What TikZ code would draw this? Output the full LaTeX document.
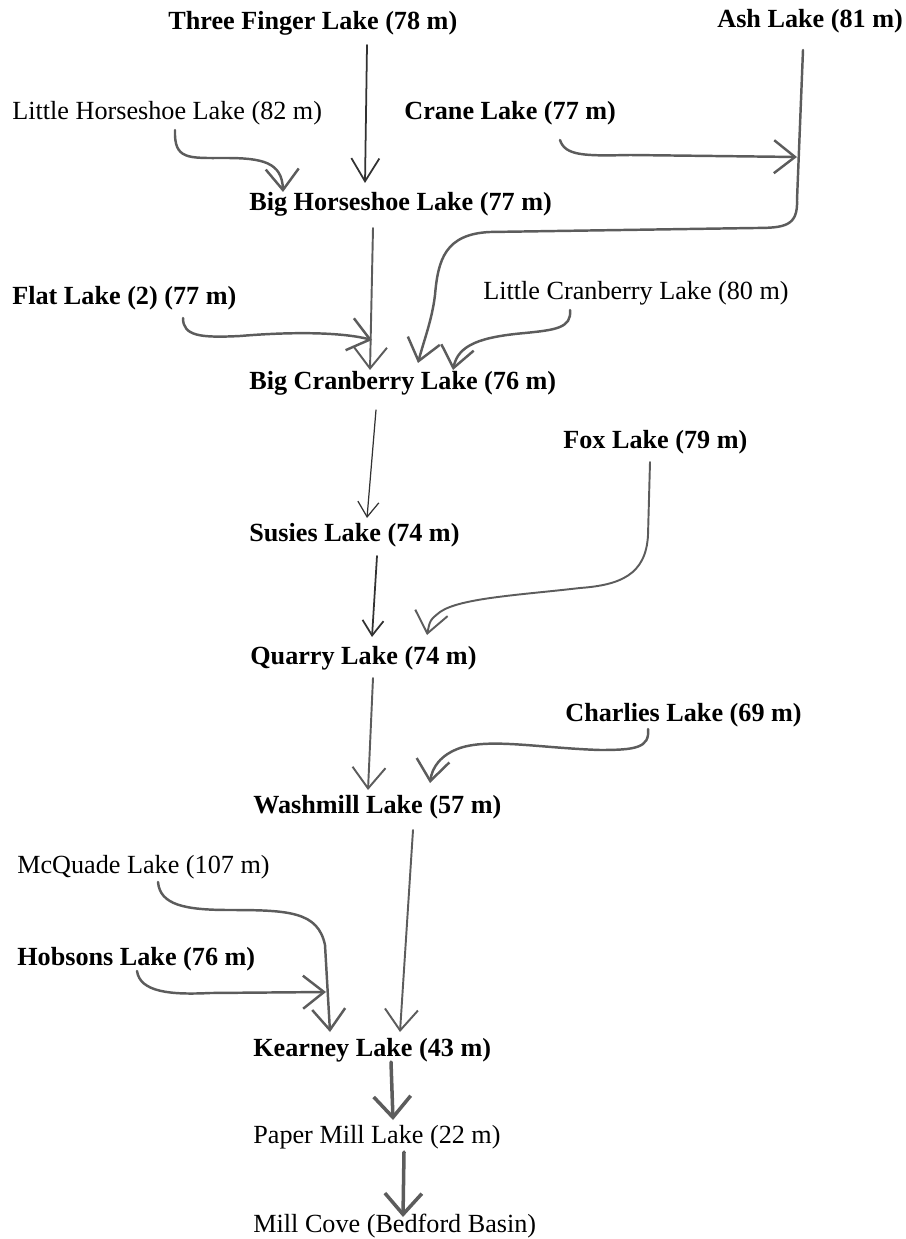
\documentclass[tikz,border=0pt]{standalone}
\usepackage{fontspec}
\setmainfont{Liberation Serif}
\usepackage{tikz}
\usetikzlibrary{arrows.meta}
\definecolor{pencil}{RGB}{92,92,92}
\definecolor{lead}{RGB}{50,50,50}

\begin{document}
\begin{tikzpicture}[x=0.02cm, y=-0.02cm,
		lake/.style={inner sep=0pt, anchor=base west, font=\fontsize{14.9}{18}\selectfont},
		lakeb/.style={lake, font=\fontsize{14.9}{18}\selectfont\bfseries},
		flow/.style={draw=pencil, line width=1.4pt, line cap=round, line join=round,
			-{Straight Barb[length=0.42cm, width=0.66cm]}},
		thinflow/.style={flow, draw=lead, line width=0.7pt,
			-{Straight Barb[length=0.3cm, width=0.42cm]}},
		thickflow/.style={flow, line width=2pt,
			-{Straight Barb[length=0.42cm, width=0.74cm]}}]
		\useasboundingbox (0,0) rectangle (905,1239);
		% lakes
		\node[lakeb] (tfl) at (168,30) {Three Finger Lake (78 m)};
		\node[lakeb] (ash) at (717,28) {Ash Lake (81 m)};
		\node[lake] (lhs) at (12,120) {Little Horseshoe Lake (82 m)};
		\node[lakeb] (crane) at (404,120) {Crane Lake (77 m)};
		\node[lakeb] (bhs) at (249,211) {Big Horseshoe Lake (77 m)};
		\node[lakeb] (flat) at (12,305) {Flat Lake (2) (77 m)};
		\node[lake] (lcb) at (483,300) {Little Cranberry Lake (80 m)};
		\node[lakeb] (bcb) at (249,390) {Big Cranberry Lake (76 m)};
		\node[lakeb] (fox) at (563,449) {Fox Lake (79 m)};
		\node[lakeb] (sus) at (249,541) {Susies Lake (74 m)};
		\node[lakeb] (qua) at (250,664) {Quarry Lake (74 m)};
		\node[lakeb] (cha) at (565,721) {Charlies Lake (69 m)};
		\node[lakeb] (wash) at (253,813) {Washmill Lake (57 m)};
		\node[lake] (mcq) at (17,873) {McQuade Lake (107 m)};
		\node[lakeb] (hob) at (17,965) {Hobsons Lake (76 m)};
		\node[lakeb] (kea) at (253,1056) {Kearney Lake (43 m)};
		\node[lake] (pml) at (253,1143) {Paper Mill Lake (22 m)};
		\node[lake] (mcv) at (253,1232) {Mill Cove (Bedford Basin)};
		\coordinate (cranejoin) at (797,157);
		\coordinate (hobjoin) at (326,992);
		% into Big Horseshoe Lake
		\draw[thinflow, line width=1pt, -{Straight Barb[length=0.46cm, width=0.56cm]}]
			([shift={(199,15)}]tfl.base west) -- ([shift={(116,-28)}]bhs.base west);
		\draw[flow] ([shift={(163,10)}]lhs.base west) .. controls (174,160) and (188,158) .. (225,158)
			.. controls (262,158) and (282,162) .. ([shift={(34,-19)}]bhs.base west);
		% Crane Lake joins the Ash Lake brook
		\draw[flow] ([shift={(156,20)}]crane.base west) .. controls (565,156) and (585,156) .. (630,155)
			-- (cranejoin);
		% into Big Cranberry Lake
		\draw[flow] ([shift={(86,22)}]ash.base west) -- (797,200) .. controls (798,226) and (785,228) .. (755,228)
			-- (490,232) .. controls (445,234) and (438,260) .. (435,295)
			.. controls (432,320) and (424,340) .. ([shift={(169,-27)}]bcb.base west);
		\draw[flow, line width=1.1pt] ([shift={(124,17)}]bhs.base west) -- ([shift={(121,-20)}]bcb.base west);
		\draw[flow] ([shift={(171,13)}]flat.base west) .. controls (183,336) and (200,338) .. (240,336)
			.. controls (300,331) and (345,333) .. ([shift={(123,-50)}]bcb.base west);
		\draw[flow] ([shift={(87,10)}]lcb.base west) .. controls (572,328) and (555,330) .. (525,333)
			.. controls (480,337) and (458,345) .. ([shift={(204,-20)}]bcb.base west);
		% down to Quarry Lake
		\draw[thinflow] ([shift={(127,20)}]bcb.base west) -- ([shift={(118,-23)}]sus.base west);
		\draw[thinflow, line width=1pt] ([shift={(128,15)}]sus.base west) -- ([shift={(122,-27)}]qua.base west);
		\draw[flow, line width=1.1pt] ([shift={(87,13)}]fox.base west) -- (648,535) .. controls (646,575) and (620,585) .. (580,588)
			.. controls (520,595) and (460,598) .. (440,612)
			.. controls (430,620) .. ([shift={(177,-29)}]qua.base west);
		% Washmill Lake
		\draw[flow, line width=1.1pt] ([shift={(123,14)}]qua.base west) -- ([shift={(115,-23)}]wash.base west);
		\draw[flow] ([shift={(83,8)}]cha.base west) .. controls (650,748) and (635,750) .. (600,750)
			.. controls (540,748) and (490,738) .. (460,748)
			.. controls (440,755) and (432,768) .. ([shift={(177,-30)}]wash.base west);
		% Kearney Lake
		\draw[flow, line width=1.1pt] ([shift={(160,17)}]wash.base west) -- ([shift={(147,-24)}]kea.base west);
		\draw[flow] ([shift={(141,9)}]mcq.base west) .. controls (160,905) and (185,910) .. (230,910)
			.. controls (290,910) and (318,912) .. (325,945) -- ([shift={(77,-24)}]kea.base west);
		\draw[flow] ([shift={(120,6)}]hob.base west) .. controls (140,992) and (170,995) .. (210,993)
			-- (hobjoin);
		% out to the basin
		\draw[thickflow] ([shift={(138,6)}]kea.base west) -- ([shift={(140,-23)}]pml.base west);
		\draw[thickflow] ([shift={(151,9)}]pml.base west) -- ([shift={(150,-15)}]mcv.base west);
\end{tikzpicture}
\end{document}
